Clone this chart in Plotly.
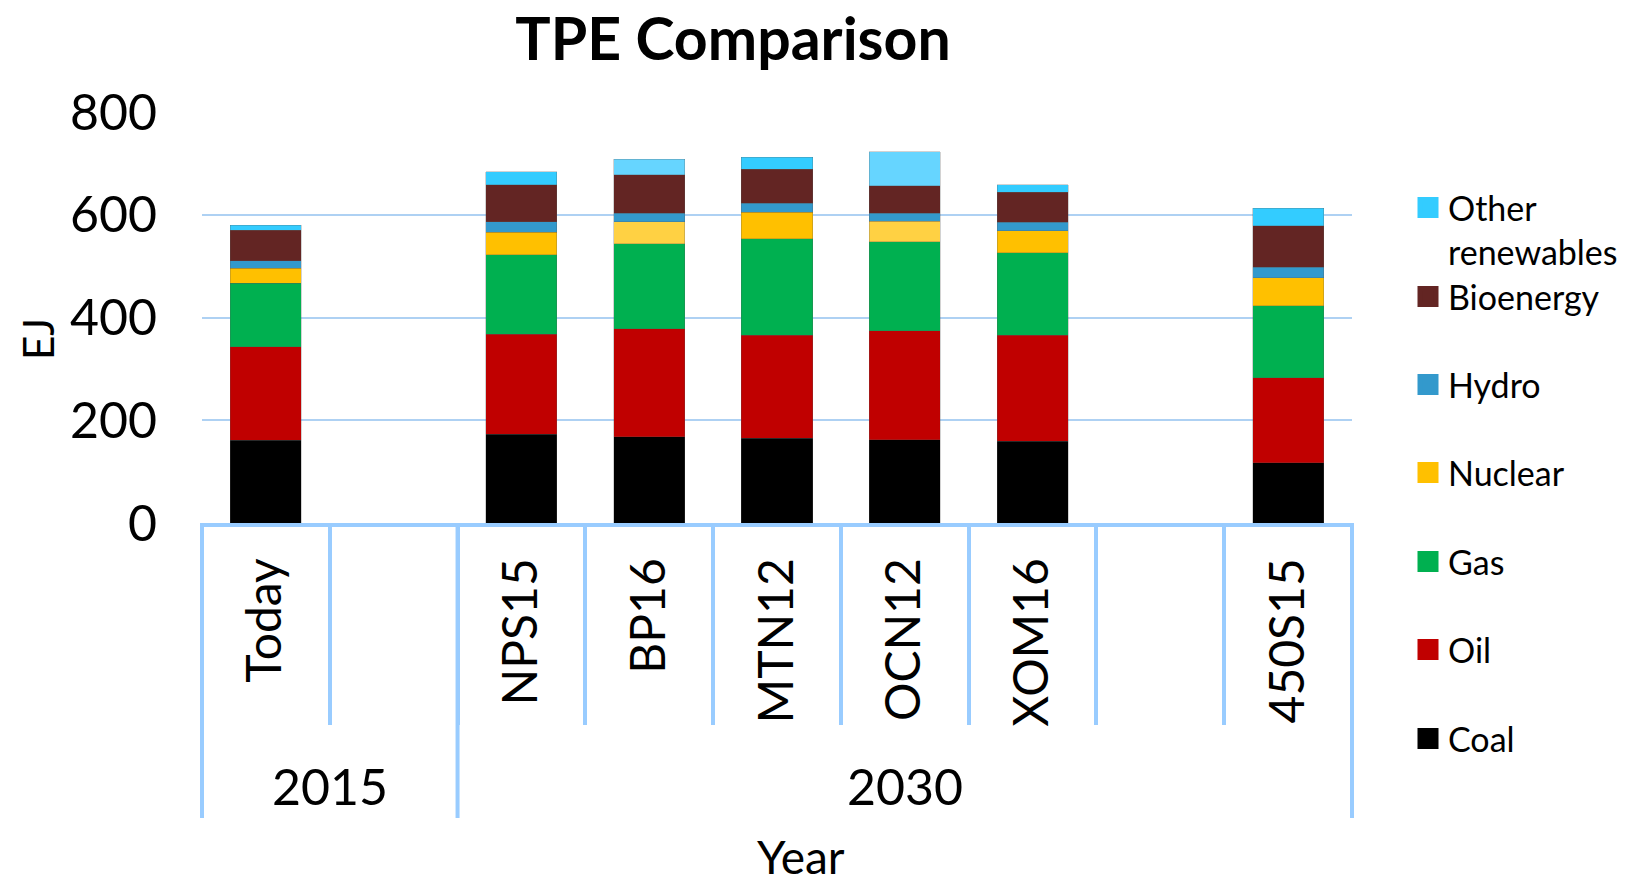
import plotly.graph_objects as go

# Category slots along the x axis (blank slots keep the gaps between groups)
axis_slots = ["Today", " ", "NPS15", "BP16", "MTN12", "OCN12", "XOM16", "  ", "450S15"]
year_groups = ["2015", "2030"]
group_sizes = [2, 7]

# Total primary energy by source, EJ
scenarios = ["Today", "NPS15", "BP16", "MTN12", "OCN12", "XOM16", "450S15"]
coal = [161, 173, 168, 165, 162, 159, 117]
oil = [182, 194, 210, 200, 212, 206, 166]
gas = [124, 155, 166, 188, 173, 161, 140]
nuclear = [29, 44, 42, 52, 40, 43, 54]
hydro = [14, 20, 17, 17, 16, 16, 21]
bioenergy = [60, 72, 75, 67, 53, 59, 81]
other_renewables = [10, 26, 30, 23, 67, 14, 34]

y_ticks = [0, 200, 400, 600, 800]

FONT = "Lato, 'Open Sans', sans-serif"
AXIS_BLUE = "#99CCFF"
GRID_BLUE = "#AED1F3"

W, H = 1642, 884
ML, MR, MT, MB = 202, 290, 112, 361
PW, PH = W - ML - MR, H - MT - MB


def px_x(px):
    return (px - ML) / PW


def px_y(py):
    return (H - MB - py) / PH


# Scenarios drawn with the paler nuclear / other-renewables shades
pale = {"BP16", "OCN12"}


def shade(base, light):
    return [light if s in pale else base for s in scenarios]


series = [
    ("Coal", coal, ["#000000"] * len(scenarios)),
    ("Oil", oil, ["#C00000"] * len(scenarios)),
    ("Gas", gas, ["#00B050"] * len(scenarios)),
    ("Nuclear", nuclear, shade("#FFC000", "#FFD143")),
    ("Hydro", hydro, ["#3399CC"] * len(scenarios)),
    ("Bioenergy", bioenergy, ["#632523"] * len(scenarios)),
    ("Other<br>renewables", other_renewables, shade("#33CCFF", "#66D5FF")),
]

fig = go.Figure()
for name, vals, cols in series:
    fig.add_trace(go.Bar(
        x=scenarios, y=vals, name=name.replace("<br>", " "),
        marker=dict(color=cols, line=dict(color="rgba(90,90,90,0.45)", width=0.6)),
        showlegend=False,
    ))

# Legend entries, one legend box per source so each sits at its own row
legend_rows = {"Other<br>renewables": 230, "Bioenergy": 297, "Hydro": 385,
               "Nuclear": 473, "Gas": 562, "Oil": 650, "Coal": 739}
legend_layouts = {}
for i, (name, vals, cols) in enumerate(reversed(series)):
    key = "legend" if i == 0 else f"legend{i + 1}"
    c = cols[0]
    fig.add_trace(go.Scatter(
        x=[None], y=[None], mode="markers", name=name, legend=key,
        marker=dict(symbol="square", size=16, color=c, line=dict(color=c, width=5)),
        hoverinfo="skip",
    ))
    legend_layouts[key] = dict(
        x=px_x(1408), xanchor="left", y=px_y(legend_rows[name]), yanchor="middle",
        font=dict(family=FONT, size=34, color="black"), bgcolor="rgba(0,0,0,0)",
        valign="top", itemwidth=30, borderwidth=0,
    )

# Long dividers between year groups and the year labels
shapes = []
annotations = []
n = len(axis_slots)
start = 0
bounds = [0]
for yr, size in zip(year_groups, group_sizes):
    centre = start + (size - 1) / 2
    annotations.append(dict(
        x=centre, xref="x", y=px_y(786), yref="paper", text=yr, showarrow=False,
        font=dict(family=FONT, size=50, color="black"), xanchor="center", yanchor="middle",
    ))
    start += size
    bounds.append(start)
for b in bounds:
    shapes.append(dict(
        type="line", xref="paper", yref="paper", x0=b / n, x1=b / n,
        y0=0, y1=px_y(818), line=dict(color=AXIS_BLUE, width=4),
    ))

annotations.append(dict(
    x=px_x(38), y=px_y(339), xref="paper", yref="paper", text="EJ", textangle=-90,
    showarrow=False, font=dict(family=FONT, size=42, color="black"),
    xanchor="center", yanchor="middle",
))
annotations.append(dict(
    x=px_x(801), y=px_y(856), xref="paper", yref="paper", text="Year",
    showarrow=False, font=dict(family=FONT, size=46, color="black"),
    xanchor="center", yanchor="middle",
))

fig.update_layout(
    width=W, height=H,
    margin=dict(l=ML, r=MR, t=MT, b=MB, autoexpand=False),
    paper_bgcolor="white", plot_bgcolor="white",
    barmode="stack", bargap=0.444,
    font=dict(family=FONT, color="black"),
    title=dict(
        text="<b>TPE Comparison</b>", x=733 / W, xanchor="center",
        y=1 - 39 / H, yanchor="middle", yref="container",
        font=dict(family=FONT, size=59, color="black"),
    ),
    shapes=shapes, annotations=annotations,
    **legend_layouts,
)

fig.update_xaxes(
    type="category", categoryorder="array", categoryarray=axis_slots,
    range=[-0.5, n - 0.5], tickson="boundaries", ticks="outside",
    ticklen=198, tickwidth=4, tickcolor=AXIS_BLUE,
    showline=True, linecolor=AXIS_BLUE, linewidth=4,
    tickangle=-90, tickfont=dict(family=FONT, size=48, color="black"),
    ticklabelstandoff=12, showgrid=False, zeroline=False,
)
fig.update_yaxes(
    range=[0, 800], tickvals=y_ticks, showgrid=True, gridcolor=GRID_BLUE, gridwidth=1.5,
    showline=False, zeroline=False, ticks="", ticklabelstandoff=44,
    tickfont=dict(family=FONT, size=50, color="black"),
)

fig.write_html("out.html")
